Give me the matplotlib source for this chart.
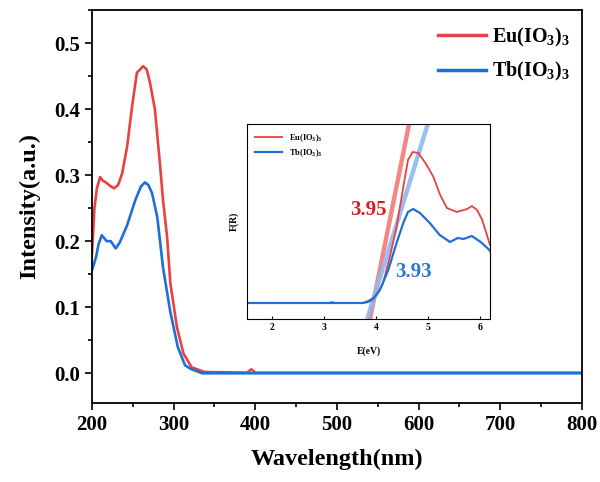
import numpy as np
import matplotlib
matplotlib.use('Agg')
import matplotlib.pyplot as plt
from matplotlib.ticker import MultipleLocator

plt.rcParams['font.family'] = ['Liberation Serif', 'DejaVu Serif']
plt.rcParams['font.weight'] = 'bold'
plt.rcParams['mathtext.fontset'] = 'custom'
plt.rcParams['mathtext.rm'] = 'Liberation Serif:bold'
plt.rcParams['mathtext.it'] = 'Liberation Serif:bold'
plt.rcParams['mathtext.bf'] = 'Liberation Serif:bold'

# main absorption spectra (wavelength in nm)
eu_wl = [200, 203, 206, 210, 213, 218, 222, 227, 232, 237, 243, 249, 255, 259, 262.5,
         267, 271, 277, 283, 287, 292, 296, 304, 312, 322, 338, 390, 395, 400, 800]
eu_int = [0.18, 0.25, 0.28, 0.297, 0.292, 0.288, 0.284, 0.28, 0.285, 0.303, 0.343, 0.403,
          0.455, 0.46, 0.465, 0.46, 0.44, 0.40, 0.32, 0.262, 0.206, 0.136, 0.07, 0.03,
          0.009, 0.002, 0.001, 0.006, 0.001, 0.001]
tb_wl = [200, 205, 208, 212, 218, 223, 229, 234, 243, 253, 260, 265, 269, 273.5, 280,
         287, 295.6, 305, 314, 322, 335, 800]
tb_int = [0.156, 0.176, 0.195, 0.209, 0.2, 0.2, 0.189, 0.198, 0.224, 0.262, 0.283, 0.289,
          0.285, 0.273, 0.236, 0.16, 0.095, 0.04, 0.012, 0.006, 0.0, 0.0]

# inset: Kubelka-Munk F(R) vs photon energy (eV)
eu_e = [1.52, 3.1, 3.15, 3.2, 3.75, 3.85, 3.95, 4.02, 4.14, 4.27, 4.40, 4.53, 4.62, 4.71,
        4.82, 4.98, 5.11, 5.24, 5.37, 5.56, 5.76, 5.85, 5.95, 6.05, 6.17, 6.2]
eu_fr = [0.0, 0.0, 0.01, 0.0, 0.0, 0.02, 0.05, 0.08, 0.2, 0.46, 0.76, 1.16, 1.43, 1.51,
         1.50, 1.38, 1.26, 1.08, 0.95, 0.91, 0.94, 0.97, 0.93, 0.83, 0.63, 0.58]
tb_e = [1.52, 3.75, 3.85, 3.95, 4.08, 4.24, 4.40, 4.53, 4.62, 4.72, 4.85, 5.04, 5.23,
        5.43, 5.58, 5.69, 5.85, 6.02, 6.19, 6.2]
tb_fr = [0.0, 0.0, 0.01, 0.04, 0.13, 0.33, 0.6, 0.8, 0.91, 0.94, 0.9, 0.8, 0.68, 0.61,
         0.65, 0.64, 0.67, 0.61, 0.53, 0.52]
# band gap tangent lines: (intercept, slope)
eu_gap, eu_slope = 3.95, 2.59
tb_gap, tb_slope = 3.93, 1.67

red = '#e8413f'
blue = '#1f6fd8'

fig = plt.figure(figsize=(6, 4.82), dpi=100)
ax = fig.add_axes([0.1533, 0.1639, 0.8167, 0.8154])
ax.plot(eu_wl, eu_int, color=red, lw=1.9, label=r'Eu(IO$_3$)$_3$')
ax.plot(tb_wl, tb_int, color=blue, lw=1.9, label=r'Tb(IO$_3$)$_3$')
ax.set_xlim(200, 800)
ax.set_ylim(-0.045, 0.55)
ax.xaxis.set_major_locator(MultipleLocator(100))
ax.xaxis.set_minor_locator(MultipleLocator(50))
ax.yaxis.set_major_locator(MultipleLocator(0.1))
ax.yaxis.set_minor_locator(MultipleLocator(0.05))
ax.set_yticks([0.0, 0.1, 0.2, 0.3, 0.4, 0.5])
ax.set_yticklabels(['0.0', '0.1', '0.2', '0.3', '0.4', '0.5'])
ax.tick_params(which='both', direction='out', width=1.2, labelsize=15)
ax.tick_params(which='major', length=5)
ax.tick_params(which='minor', length=3)
for s in ax.spines.values():
    s.set_linewidth(1.3)
ax.set_xlabel('Wavelength(nm)', fontsize=17.5, fontweight='bold', labelpad=10)
ax.set_ylabel('Intensity(a.u.)', fontsize=17.5, fontweight='bold', labelpad=10)
leg = ax.legend(loc='upper right', frameon=False, fontsize=14.5, handlelength=2.4,
                labelspacing=0.55, handletextpad=0.3, borderaxespad=0.2,
                bbox_to_anchor=(1.0, 0.99))
for line in leg.get_lines():
    line.set_linewidth(2.5)

# inset
ins = fig.add_axes([0.4117, 0.3382, 0.405, 0.4046])
ylo, yhi = -0.16, 1.79
for gap, slope, c in [(eu_gap, eu_slope, '#f07a7a'), (tb_gap, tb_slope, '#8cbaf0')]:
    ex = np.array([gap + ylo / slope, gap + yhi / slope])
    ins.plot(ex, slope * (ex - gap), color=c, lw=3.2, alpha=0.9, solid_capstyle='butt')
ins.plot(eu_e, eu_fr, color=red, lw=1.3, label=r'Eu(IO$_3$)$_3$')
ins.plot(tb_e, tb_fr, color=blue, lw=1.6, label=r'Tb(IO$_3$)$_3$')
ins.set_xlim(1.52, 6.2)
ins.set_ylim(ylo, yhi)
ins.set_yticks([])
ins.set_xticks([2, 3, 4, 5, 6])
ins.tick_params(axis='x', direction='in', length=2, labelsize=7, pad=3)
ins.set_xlabel('E(eV)', fontsize=7, fontweight='bold', labelpad=10)
ins.set_ylabel('F(R)', fontsize=7, fontweight='bold', labelpad=6)
ins.text(4.2, 0.93, '3.95', color='#d42020', fontsize=15, fontweight='bold',
         ha='right', va='center')
ins.text(4.37, 0.31, '3.93', color='#2b78d0', fontsize=15, fontweight='bold',
         va='center')
ins.legend(loc='upper left', frameon=False, fontsize=6, handlelength=3.2,
           labelspacing=0.4, borderaxespad=0.6)

fig.savefig('out.png', dpi=100)
